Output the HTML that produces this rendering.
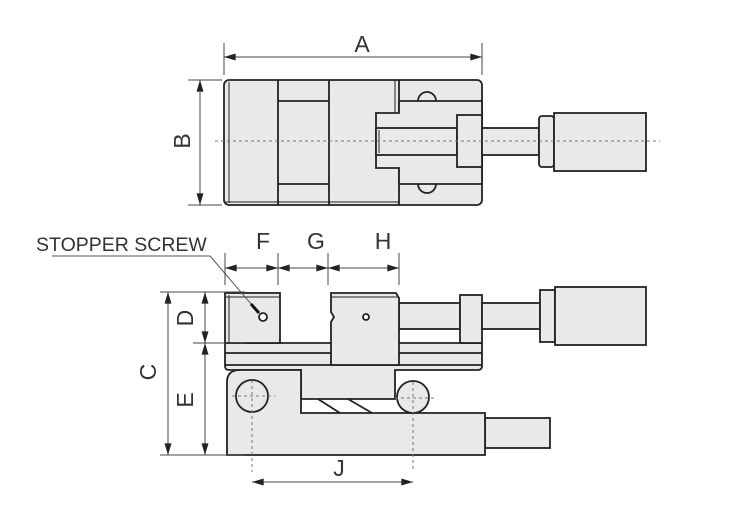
<!DOCTYPE html>
<html><head><meta charset="utf-8"><style>
html,body{margin:0;padding:0;background:#fff;}
svg{display:block;}
text{font-family:"Liberation Sans",sans-serif;fill:#333;}
</style></head><body>
<svg width="740" height="529" viewBox="0 0 740 529" xmlns="http://www.w3.org/2000/svg">
<defs>
<marker id="ar" viewBox="0 0 10 6" refX="10" refY="3" markerWidth="16" markerHeight="7" markerUnits="userSpaceOnUse" orient="auto-start-reverse"><path d="M0,0 L10,3 L0,6 Z" fill="#222"/></marker>
</defs>
<g stroke="#222" stroke-width="1.8" fill="#e9e9e9">
<!-- TOP VIEW -->
<rect x="224" y="80" width="258" height="125" rx="5"/>
<line x1="229" y1="82" x2="229" y2="203" stroke-width="1"/>
<line x1="278" y1="80" x2="278" y2="205"/>
<line x1="329" y1="80" x2="329" y2="205"/>
<line x1="278" y1="101" x2="329" y2="101"/>
<line x1="278" y1="184" x2="329" y2="184"/>
<line x1="224" y1="202" x2="399" y2="202" stroke-width="1"/>
<line x1="399" y1="80" x2="399" y2="205"/>
<line x1="395" y1="80" x2="395" y2="113" stroke-width="1"/>
<path d="M418,101 A9,9 0 0 1 436,101" />
<path d="M418,184 A9,9 0 0 0 436,184" />
<path d="M399,113 L376,113 L376,168 L399,168 L399,184 L482,184 L482,101 L399,101 Z"/>
<rect x="376" y="128" width="81" height="27"/>
<line x1="379" y1="130" x2="379" y2="153" stroke-width="1"/>
<rect x="457" y="115" width="25" height="52"/>
<rect x="482" y="128" width="57" height="27"/>
<rect x="539" y="116" width="15" height="51" rx="3"/>
<rect x="554" y="113" width="92" height="58"/>
<!-- SIDE VIEW -->
<path d="M225,343 H482 V366 Q482,370 478,370 H395 V399 H301 V370 H229 Q225,370 225,366 Z"/>
<line x1="225" y1="353" x2="482" y2="353"/>
<line x1="225" y1="365" x2="482" y2="365"/>
<rect x="399" y="303" width="61" height="26"/>
<rect x="460" y="295" width="22" height="48"/>
<rect x="482" y="303" width="58" height="26"/>
<rect x="540" y="290" width="15" height="52"/>
<rect x="555" y="287" width="91" height="58"/>
<rect x="225" y="293" width="55" height="50"/>
<line x1="229" y1="295" x2="229" y2="343" stroke-width="1"/>
<line x1="225" y1="297" x2="280" y2="297" stroke-width="1"/>
<path d="M331,293 L396,293 L399,298 L399,365 L331,365 L331,322 L334,317 L331,312 Z"/>
<line x1="331" y1="297" x2="399" y2="297" stroke-width="1"/>
<rect x="485" y="418" width="65" height="30"/>
<path d="M227,455 L227,382 Q227,370 240,370 L301,370 L301,413 L485,413 L485,455 Z"/>
<circle cx="252" cy="396" r="16"/>
<circle cx="413" cy="397" r="16"/>
<line x1="318" y1="399" x2="340" y2="413"/>
<line x1="348" y1="399" x2="372" y2="413"/>
<circle cx="263" cy="317" r="4" fill="#fff"/>
<circle cx="366" cy="317" r="3" fill="#fff"/>
</g>
<g stroke="#555" stroke-width="1" fill="none">
<polyline points="52,256 210,256 258,312"/>
</g>
<line x1="251" y1="304" x2="259" y2="313" stroke="#111" stroke-width="3"/>
<g stroke="#777" stroke-width="1" stroke-dasharray="3,3" fill="none">
<line x1="215" y1="141" x2="660" y2="141"/>
<line x1="252" y1="380" x2="252" y2="472"/>
<line x1="413" y1="382" x2="413" y2="472"/>
<line x1="232" y1="396" x2="275" y2="396"/>
<line x1="395" y1="398" x2="434" y2="398"/>
</g>
<g stroke="#444" stroke-width="1" fill="none">
<line x1="224" y1="43" x2="224" y2="75"/>
<line x1="482" y1="43" x2="482" y2="75"/>
<line x1="224" y1="57" x2="482" y2="57" marker-start="url(#ar)" marker-end="url(#ar)"/>
<line x1="188" y1="80" x2="222" y2="80"/>
<line x1="188" y1="205" x2="222" y2="205"/>
<line x1="200" y1="80" x2="200" y2="205" marker-start="url(#ar)" marker-end="url(#ar)"/>
<line x1="225" y1="253" x2="225" y2="285"/>
<line x1="278" y1="253" x2="278" y2="285"/>
<line x1="328" y1="253" x2="328" y2="285"/>
<line x1="399" y1="253" x2="399" y2="285"/>
<line x1="225" y1="268" x2="278" y2="268" marker-start="url(#ar)" marker-end="url(#ar)"/>
<line x1="278" y1="268" x2="328" y2="268" marker-start="url(#ar)" marker-end="url(#ar)"/>
<line x1="328" y1="268" x2="399" y2="268" marker-start="url(#ar)" marker-end="url(#ar)"/>
<line x1="160" y1="292" x2="245" y2="292"/>
<line x1="193" y1="343" x2="245" y2="343"/>
<line x1="160" y1="455" x2="245" y2="455"/>
<line x1="168" y1="292" x2="168" y2="455" marker-start="url(#ar)" marker-end="url(#ar)"/>
<line x1="205" y1="292" x2="205" y2="343" marker-start="url(#ar)" marker-end="url(#ar)"/>
<line x1="205" y1="343" x2="205" y2="455" marker-start="url(#ar)" marker-end="url(#ar)"/>
<line x1="252" y1="482" x2="413" y2="482" marker-start="url(#ar)" marker-end="url(#ar)"/>
</g>
<g font-size="23">
<text x="362" y="52" text-anchor="middle">A</text>
<text x="184" y="141" text-anchor="middle" transform="rotate(-90 184 141)" dominant-baseline="middle">B</text>
<text x="263" y="249" text-anchor="middle">F</text>
<text x="316" y="249" text-anchor="middle">G</text>
<text x="383" y="249" text-anchor="middle">H</text>
<text x="150" y="372" text-anchor="middle" transform="rotate(-90 150 372)" dominant-baseline="middle">C</text>
<text x="187" y="318" text-anchor="middle" transform="rotate(-90 187 318)" dominant-baseline="middle">D</text>
<text x="187" y="400" text-anchor="middle" transform="rotate(-90 187 400)" dominant-baseline="middle">E</text>
<text x="339" y="476" text-anchor="middle">J</text>
</g>
<text x="36" y="251" font-size="19.5">STOPPER SCREW</text>
</svg>
</body></html>
